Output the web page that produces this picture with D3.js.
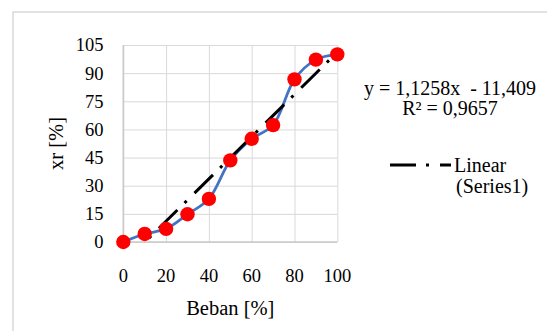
<!DOCTYPE html>
<html>
<head>
<meta charset="utf-8">
<script src="https://cdn.jsdelivr.net/npm/d3@7"></script>
<style>
  body { margin: 0; background: #fff; }
  svg text { font-family: "Liberation Serif", "Times New Roman", serif; fill: #000; }
</style>
</head>
<body>
<div id="chart"></div>
<script>
// data
var beban = [0, 10, 20, 30, 40, 50, 60, 70, 80, 90, 100];
var xr = [0, 4.3, 7, 14.8, 23, 43.5, 55, 62.3, 86.7, 97.2, 100];
var xTicks = [0, 20, 40, 60, 80, 100];
var yTicks = [0, 15, 30, 45, 60, 75, 90, 105];
var slope = 1.1258, intercept = -11.409;
var eqLines = ["y = 1,1258x  - 11,409", "R\u00b2 = 0,9657"];
var legendLines = ["Linear", "(Series1)"];

var W = 547, H = 331;
var margin = { left: 123.3, top: 45, right: 547 - 337.3, bottom: 331 - 242 };
var width = W - margin.left - margin.right;
var height = H - margin.top - margin.bottom;

var svg = d3.select("#chart").append("svg")
  .attr("width", W)
  .attr("height", H);

// chart border (only top/left fall inside the frame)
svg.append("rect")
  .attr("x", 13).attr("y", 12)
  .attr("width", 600).attr("height", 400)
  .attr("fill", "none")
  .attr("stroke", "#d9d9d9")
  .attr("stroke-width", 1.5);

var x = d3.scaleLinear().domain([0, 100]).range([0, width]);
var y = d3.scaleLinear().domain([0, 105]).range([height, 0]);

var g = svg.append("g")
  .attr("transform", "translate(" + margin.left + "," + margin.top + ")");

g.append("defs").append("clipPath").attr("id", "plotclip")
  .append("rect").attr("width", width).attr("height", height);

// gridlines
var yGrid = g.append("g").call(d3.axisLeft(y).tickValues(yTicks).tickSize(-width).tickFormat(""));
var xGrid = g.append("g").attr("transform", "translate(0," + height + ")")
  .call(d3.axisBottom(x).tickValues(xTicks).tickSize(height).tickFormat(""));
[yGrid, xGrid].forEach(function (ax) {
  ax.select(".domain").remove();
  ax.selectAll("line").attr("stroke", "#d9d9d9").attr("stroke-width", 1);
});
xGrid.selectAll("line").attr("y2", -height);

// axis lines
g.append("line").attr("x1", 0).attr("x2", 0).attr("y1", 0).attr("y2", height)
  .attr("stroke", "#c8c8c8").attr("stroke-width", 1.5);
g.append("line").attr("x1", 0).attr("x2", width).attr("y1", height).attr("y2", height)
  .attr("stroke", "#c8c8c8").attr("stroke-width", 1.5);

// tick labels
g.selectAll(".ylab").data(yTicks).enter().append("text")
  .attr("class", "ylab")
  .attr("x", -19.8)
  .attr("y", function (d) { return y(d); })
  .attr("dy", "0.35em")
  .attr("text-anchor", "end")
  .style("font-size", "18.5px")
  .text(function (d) { return d; });

g.selectAll(".xlab").data(xTicks).enter().append("text")
  .attr("class", "xlab")
  .attr("x", function (d) { return x(d); })
  .attr("y", height + 40)
  .attr("text-anchor", "middle")
  .style("font-size", "18.5px")
  .text(function (d) { return d; });

// axis titles
g.append("text")
  .attr("x", width / 2).attr("y", height + 73)
  .attr("text-anchor", "middle")
  .style("font-size", "20.5px")
  .text("Beban [%]");
svg.append("text")
  .attr("transform", "translate(63," + (margin.top + height / 2) + ") rotate(-90)")
  .attr("text-anchor", "middle")
  .style("font-size", "20.5px")
  .text("xr [%]");

// series line (smoothed)
var pts = beban.map(function (b, i) { return [b, xr[i]]; });
g.append("path")
  .datum(pts)
  .attr("fill", "none")
  .attr("stroke", "#4472c4")
  .attr("stroke-width", 2.75)
  .attr("d", d3.line()
    .x(function (d) { return x(d[0]); })
    .y(function (d) { return y(d[1]); })
    .curve(d3.curveCatmullRom.alpha(0.5)));

// linear trendline
var trend = [0, 100].map(function (b) { return [b, slope * b + intercept]; });
g.append("path")
  .datum(trend)
  .attr("clip-path", "url(#plotclip)")
  .attr("fill", "none")
  .attr("stroke", "#000")
  .attr("stroke-width", 3)
  .attr("stroke-dasharray", "26,10,3,11")
  .attr("d", d3.line()
    .x(function (d) { return x(d[0]); })
    .y(function (d) { return y(d[1]); }));

// markers
g.selectAll(".dot").data(pts).enter().append("circle")
  .attr("class", "dot")
  .attr("cx", function (d) { return x(d[0]); })
  .attr("cy", function (d) { return y(d[1]); })
  .attr("r", 7.2)
  .attr("fill", "#ff0000");

// equation label
svg.selectAll(".eq").data(eqLines).enter().append("text")
  .attr("class", "eq")
  .attr("x", 450)
  .attr("y", function (d, i) { return 95 + i * 20; })
  .attr("text-anchor", "middle")
  .style("font-size", "20px")
  .style("white-space", "pre")
  .text(function (d) { return d; });

// legend
svg.append("line")
  .attr("x1", 390).attr("x2", 451).attr("y1", 165).attr("y2", 165)
  .attr("stroke", "#000").attr("stroke-width", 3)
  .attr("stroke-dasharray", "26,10,3,11");
svg.selectAll(".leg").data(legendLines).enter().append("text")
  .attr("class", "leg")
  .attr("x", function (d, i) { return 454 + i * 2; })
  .attr("y", function (d, i) { return 172 + i * 21; })
  .style("font-size", "20px")
  .text(function (d) { return d; });
</script>
</body>
</html>
